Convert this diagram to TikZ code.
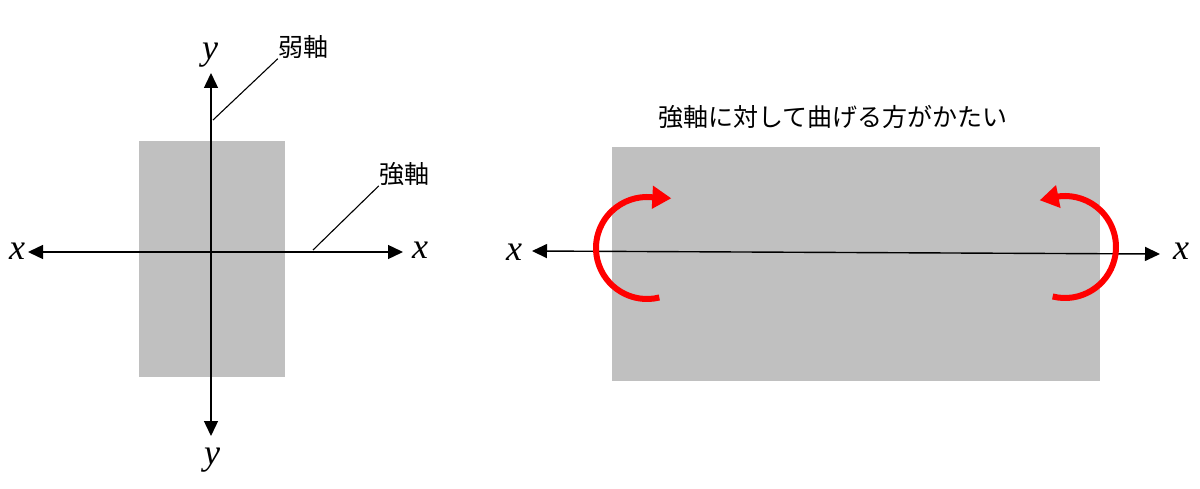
\documentclass[tikz,border=0pt]{standalone}
\usepackage{fontspec}
\setmainfont{Liberation Serif}
\newfontfamily\jp{Noto Sans CJK JP}
\usetikzlibrary{arrows.meta,calc}
\definecolor{boxgrey}{HTML}{C0C0C0}
\tikzset{
  axis/.style={line width=1.4pt, {Triangle[length=15pt,width=14pt]}-{Triangle[length=15pt,width=14pt]}},
  leader/.style={line width=1.1pt},
  var/.style={font=\fontsize{36}{40}\selectfont\itshape, inner sep=0pt, anchor=base},
  jlab/.style={font=\jp\fontsize{25}{29}\selectfont, inner sep=0pt},
  turnarrow/.style={red, line width=6pt, -{Triangle[length=19pt,width=22pt]}},
  block/.style={fill=boxgrey, draw=none}
}
\begin{document}
\begin{tikzpicture}[x=1pt,y=-1pt]
\useasboundingbox (0,0) rectangle (1200,489);
% left section
\fill[block] (139,141) rectangle (285,377);
\coordinate (yt) at (211,73);
\coordinate (yb) at (211,436);
\coordinate (xl) at (28,252);
\coordinate (xr) at (403,252);
\draw[axis] (yb) -- (yt);
\draw[axis] (xl) -- (xr);
\node[var] (ytop) at (210,60) {y};
\node[var] (ybot) at (212,464) {y};
\node[var] (xleft) at (17,260) {x};
\node[var] (xright) at (420,259) {x};
\node[jlab] (weak) at (303,47) {弱軸};
\node[jlab] (strong) at (404,174) {強軸};
\coordinate (w1) at (213,120);
\coordinate (s1) at (313,250);
\draw[leader] (w1) -- (weak.south west);
\draw[leader] (s1) -- (strong.south west);
% right section
\fill[block] (612,147) rectangle (1100,381);
\node[jlab] (title) at (833,117) {強軸に対して曲げる方がかたい};
\coordinate (Xl) at (532,251);
\coordinate (Xr) at (1160,254);
\draw[axis] (Xl) -- (Xr);
\node[var] (Xleft) at (514,261) {x};
\node[var] (Xright) at (1181,260) {x};
\coordinate (cl) at (647,248);
\coordinate (cr) at (1065,247);
\draw[turnarrow] ($(cl)+(76:51)$) arc[start angle=76, end angle=276, radius=51] -- ++(19,1);
\draw[turnarrow] ($(cr)+(104:51)$) arc[start angle=104, end angle=-96, radius=51] -- ++(-20,4);
\end{tikzpicture}
\end{document}
